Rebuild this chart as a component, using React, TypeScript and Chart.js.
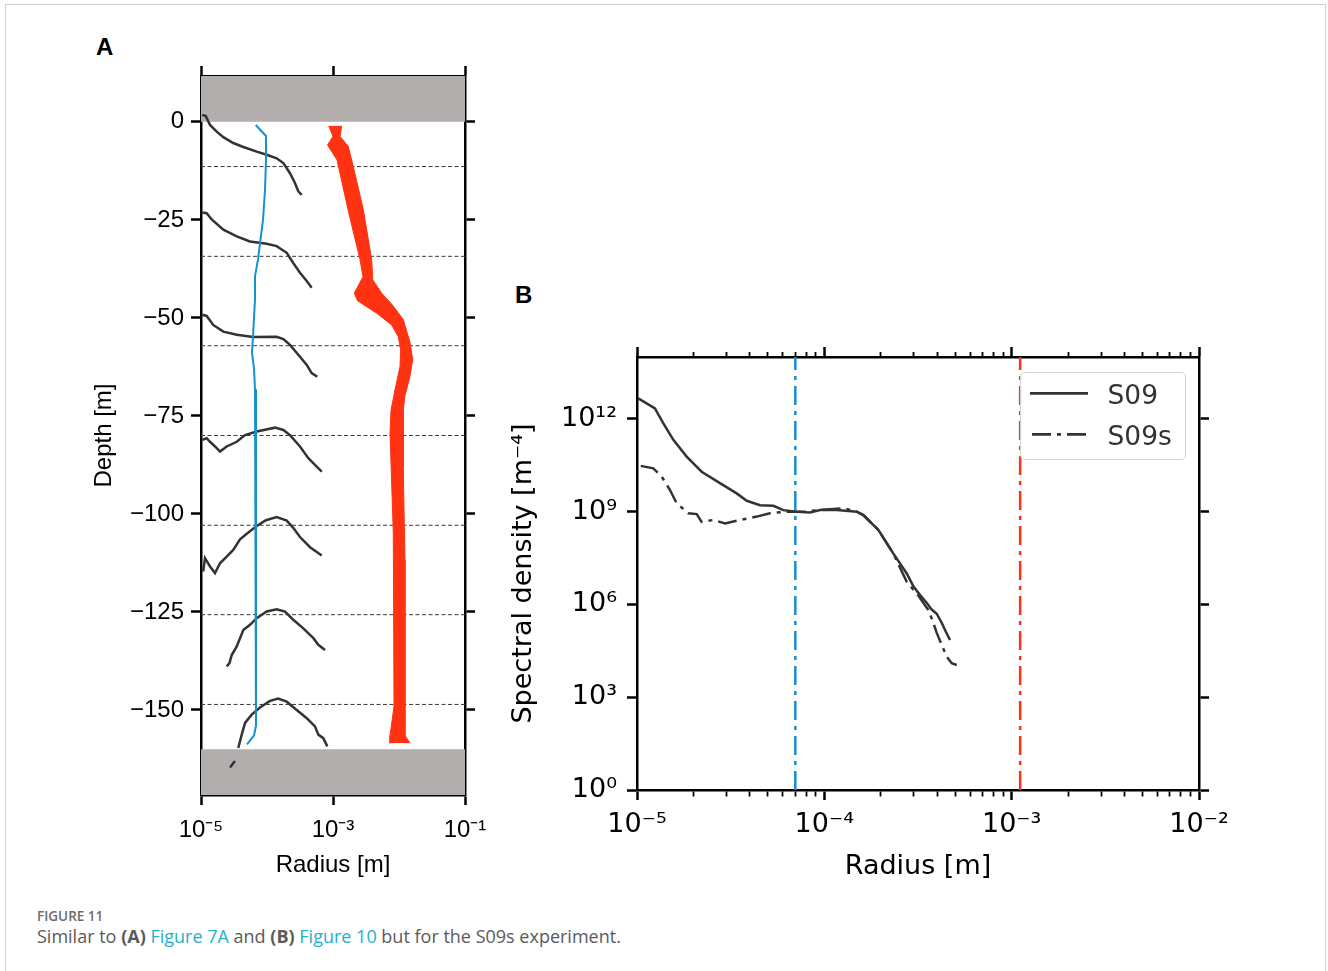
import React, { useEffect, useRef } from 'react';
import { Chart, registerables } from 'chart.js';

Chart.register(...registerables);

const FONT_A = "'Liberation Sans', Arial, Helvetica, sans-serif";
const FONT_B = "'DejaVu Sans', 'Bitstream Vera Sans', sans-serif";
const RED = '#ff3311';
const BLUE = '#1790d0';
const GRAY = '#b2aeae';
const DARK = '#333333';

// ---------------- Panel A data ----------------
const depthTicks = [-150, -125, -100, -75, -50, -25, 0];
const radiusTicksA = [1e-5, 1e-3, 1e-1];
const depthMin = -171.7;
const depthMax = 11.7;
const radiusMinA = 1e-5;
const radiusMaxA = 1e-1;
const surfaceDepth = 0;
const floorDepth = -160;
const sampleDepths = [-11.4, -34.3, -57.1, -80.0, -102.9, -125.7, -148.6];

const curve1R = [1.047e-5, 1.18e-5, 1.37e-5, 1.73e-5, 2.18e-5, 3.08e-5, 4.38e-5, 6.98e-5, 9.89e-5, 1.4e-4, 1.77e-4, 2.23e-4, 2.65e-4, 2.98e-4, 3.36e-4];
const curve1D = [1.8, 1.5, -0.8, -2.5, -3.9, -5.4, -6.4, -7.6, -8.4, -9.3, -10.5, -13.1, -15.6, -17.7, -18.6];
const curve2R = [1.047e-5, 1.219e-5, 1.452e-5, 2.18e-5, 3.48e-5, 5.52e-5, 9.89e-5, 1.4e-4, 1.99e-4, 2.5e-4, 3.16e-4, 4.0e-4, 4.75e-4];
const curve2D = [-23.1, -23.3, -24.9, -27.5, -29.2, -30.5, -31.1, -31.7, -33.4, -36.0, -38.5, -40.6, -42.3];
const curve3R = [1.047e-5, 1.22e-5, 1.53e-5, 2.18e-5, 3.48e-5, 6.19e-5, 1.4e-4, 1.77e-4, 2.23e-4, 3.16e-4, 4.0e-4, 4.75e-4, 5.78e-4];
const curve3D = [-49.2, -49.5, -51.8, -53.5, -54.3, -54.9, -54.8, -55.4, -56.9, -59.9, -62.0, -64.1, -65.0];
const curve4R = [1.047e-5, 1.22e-5, 1.37e-5, 1.63e-5, 1.94e-5, 2.45e-5, 3.48e-5, 4.65e-5, 6.98e-5, 1.32e-4, 1.77e-4, 2.23e-4, 3.16e-4, 4.23e-4, 5.33e-4, 6.75e-4];
const curve4D = [-81.1, -80.7, -81.6, -82.8, -84.1, -82.8, -81.6, -79.9, -79.0, -78.0, -78.6, -79.9, -82.8, -85.8, -87.5, -89.2];
const curve5R = [1.08e-5, 1.15e-5, 1.37e-5, 1.63e-5, 1.94e-5, 2.45e-5, 3.08e-5, 3.9e-5, 5.15e-5, 6.98e-5, 9.66e-5, 1.4e-4, 1.99e-4, 2.48e-4, 3.16e-4, 4.49e-4, 6.75e-4];
const curve5D = [-114.7, -111.3, -113.4, -115.1, -112.6, -110.9, -109.2, -106.5, -104.8, -103.1, -101.6, -100.8, -101.7, -103.5, -105.9, -108.5, -110.6];
const curve6R = [2.45e-5, 2.69e-5, 2.92e-5, 3.48e-5, 4.38e-5, 5.52e-5, 6.98e-5, 9.89e-5, 1.4e-4, 1.87e-4, 2.5e-4, 3.55e-4, 5.04e-4, 5.99e-4, 7.57e-4];
const curve6D = [-138.9, -138.1, -136.0, -133.8, -129.6, -128.3, -126.6, -124.9, -124.3, -124.9, -127.0, -129.2, -131.7, -133.4, -134.7];
const curve7R = [2.75e-5, 3.27e-5, null, 3.67e-5, 4.14e-5, 4.65e-5, 5.86e-5, 7.83e-5, 1.11e-4, 1.48e-4, 1.99e-4, 2.82e-4, 4.0e-4, 5.33e-4, 5.99e-4, 7.13e-4, 8.2e-4];
const curve7D = [-164.7, -163.0, null, -159.7, -156.3, -153.3, -151.2, -149.4, -147.7, -147.1, -147.9, -150.0, -152.1, -154.2, -156.3, -157.2, -159.3];

const blueR = [6.75e-5, 9.66e-5, 9.66e-5, 9.33e-5, 8.71e-5, 7.31e-5, 6.58e-5, 6.58e-5, 6.14e-5, 5.93e-5, 6.37e-5, 6.58e-5, 6.81e-5, 6.81e-5, 6.81e-5, 6.37e-5, 4.98e-5];
const blueD = [-0.8, -3.6, -9.7, -17.3, -24.9, -35.1, -39.4, -45.3, -54.7, -58.8, -63.1, -68.2, -79.1, -111.5, -154.0, -156.5, -158.8];

const redLeftR = [8.61e-4, 1.0e-3, 8.26e-4, 1.15e-3, 1.69e-3, 2.57e-3, 2.85e-3, 2.1e-3, 2.35e-3, 4.59e-3, 7.74e-3, 9.75e-3, 1.06e-2, 1.035e-2, 8.69e-3, 7.57e-3, 7.31e-3, 7.74e-3, 8.2e-3, 8.4e-3, 7.31e-3, 7.31e-3];
const redLeftD = [-1.0, -3.7, -5.9, -9.7, -22.4, -35.2, -39.5, -43.7, -45.6, -48.8, -51.8, -54.8, -58.2, -62.4, -68.4, -73.5, -79.4, -92.2, -104.9, -149.1, -156.5, -158.5];
const redRightR = [1.355e-3, 1.277e-3, 1.706e-3, 2.03e-3, 2.88e-3, 3.86e-3, 4.0e-3, 5.47e-3, 7.83e-3, 1.16e-2, 1.47e-2, 1.61e-2, 1.47e-2, 1.23e-2, 1.16e-2, 1.16e-2, 1.23e-2, 1.23e-2, 1.47e-2];
const redRightD = [-1.0, -3.7, -6.3, -11.4, -22.4, -35.2, -40.3, -43.7, -46.6, -50.4, -56.3, -60.6, -64.8, -69.9, -73.5, -87.9, -111.7, -156.5, -158.5];

// ---------------- Panel B data ----------------
const radiusTicksB = [
  1e-5, 2e-5, 3e-5, 4e-5, 5e-5, 6e-5, 7e-5, 8e-5, 9e-5,
  1e-4, 2e-4, 3e-4, 4e-4, 5e-4, 6e-4, 7e-4, 8e-4, 9e-4,
  1e-3, 2e-3, 3e-3, 4e-3, 5e-3, 6e-3, 7e-3, 8e-3, 9e-3,
  1e-2,
];
const densityTicks = [1, 1e3, 1e6, 1e9, 1e12];
const radiusMinB = 1e-5;
const radiusMaxB = 1e-2;
const densityMin = 1;
const densityMax = 1e14;

const s09R = [1.016e-5, 1.247e-5, 1.38e-5, 1.563e-5, 1.841e-5, 2.213e-5, 2.773e-5, 3.404e-5, 3.855e-5, 4.539e-5, 5.346e-5, 6.039e-5, 7.129e-5, 8.395e-5, 9.484e-5, 1.164e-4, 1.489e-4, 1.614e-4, 1.941e-4, 2.333e-4, 2.754e-4, 2.979e-4, 3.243e-4, 3.524e-4, 3.715e-4, 3.981e-4, 4.236e-4, 4.467e-4, 4.688e-4];
const s09S = [4.57e12, 2.19e12, 7.24e11, 2.09e11, 6.03e10, 1.95e10, 8.32e9, 3.89e9, 2.24e9, 1.62e9, 1.55e9, 1.12e9, 1.0e9, 9.33e8, 1.12e9, 1.12e9, 1.0e9, 7.76e8, 2.57e8, 4.47e7, 1.0e7, 3.98e6, 2.0e6, 1.12e6, 7.08e5, 5.01e5, 2.51e5, 1.26e5, 7.08e4];
const s09sR = [1.047e-5, 1.222e-5, 1.355e-5, 1.5e-5, 1.629e-5, 1.879e-5, 2.084e-5, 2.213e-5, 2.553e-5, 2.951e-5, 3.548e-5, 4.355e-5, 5.129e-5, 6.295e-5, 8.054e-5, 9.099e-5, 1.072e-4, 1.262e-4, 1.489e-4, 1.614e-4, 1.941e-4, 2.333e-4, 2.754e-4, 3.162e-4, 3.589e-4, 3.741e-4, 3.981e-4, 4.236e-4, 4.498e-4, 4.786e-4, 5.093e-4];
const s09sS = [3.02e10, 2.51e10, 1.35e10, 5.01e9, 1.86e9, 8.91e8, 8.32e8, 4.68e8, 5.37e8, 4.17e8, 5.37e8, 6.92e8, 8.91e8, 1.0e9, 1.0e9, 1.12e9, 1.2e9, 1.29e9, 1.0e9, 7.76e8, 2.57e8, 4.47e7, 5.37e6, 2.0e6, 6.61e5, 3.55e5, 1.2e5, 4.9e4, 2.04e4, 1.26e4, 1.1e4];
const cutoffSmall = 7.0e-5;
const cutoffLarge = 1.11e-3;

// ---------------- helpers ----------------
const SUP: Record<string, string> = { '0': '⁰', '1': '¹', '2': '²', '3': '³', '4': '⁴', '5': '⁵', '6': '⁶', '7': '⁷', '8': '⁸', '9': '⁹', '-': '⁻' };
const isMajorLog = (v: number) => Math.abs(Math.log10(v) - Math.round(Math.log10(v))) < 1e-6;
const powLabel = (v: number) => '10' + String(Math.round(Math.log10(v))).split('').map((c) => SUP[c] || c).join('');
const minusLabel = (v: number) => (v < 0 ? '\u2212' + Math.abs(v) : String(v));
const DASHDOT = [19, 6, 4, 6];

const xy = (xs: any[], ys: any[]) => xs.map((x, i) => ({ x, y: ys[i] }));
const lineDs = (label: string, data: any[], color: string, width: number, extra: any = {}) => ({
  label,
  data,
  xAxisID: 'x',
  yAxisID: 'y',
  showLine: true,
  borderColor: color,
  backgroundColor: color,
  borderWidth: width,
  pointRadius: 0,
  pointHoverRadius: 0,
  fill: false,
  tension: 0,
  spanGaps: false,
  ...extra,
});

function fixedSize(size: number) {
  return (s: any) => {
    if (s.isHorizontal()) s.height = size;
    else s.width = size;
    s.paddingLeft = 0;
    s.paddingRight = 0;
    s.paddingTop = 0;
    s.paddingBottom = 0;
  };
}
function setTicks(values: number[]) {
  return (s: any) => {
    s.ticks = values.map((v) => ({ value: v }));
  };
}
function gridFor(position: string, isMinor: (v: number) => boolean) {
  const outerFirst = position === 'top' || position === 'left';
  return {
    display: true,
    drawOnChartArea: false,
    drawTicks: true,
    tickLength: 10,
    tickColor: '#000',
    tickWidth: (c: any) => (c.tick && isMinor(c.tick.value) ? 1.8 : 2.5),
    tickBorderDash: (c: any) => (c.tick && isMinor(c.tick.value) ? (outerFirst ? [0, 5, 5, 100] : [5, 100]) : []),
  };
}
const BORDER = { display: true, color: '#000', width: 2.5 };
const noMinor = () => false;
const logMinor = (v: number) => !isMajorLog(v);

const baseOptions = {
  responsive: false,
  maintainAspectRatio: false,
  animation: false,
  devicePixelRatio: 1,
  events: [],
  layout: { padding: 0 },
  plugins: { legend: { display: false }, tooltip: { enabled: false }, title: { display: false } },
};

function PanelA() {
  const ref = useRef<HTMLCanvasElement>(null);
  useEffect(() => {
    const curves = [
      [curve1R, curve1D],
      [curve2R, curve2D],
      [curve3R, curve3D],
      [curve4R, curve4D],
      [curve5R, curve5D],
      [curve6R, curve6D],
      [curve7R, curve7D],
    ];
    const datasets: any[] = [
      lineDs('Bubble radius range', xy(redLeftR, redLeftD), RED, 1, { fill: '+1', indexAxis: 'y' }),
      lineDs('Bubble radius range (upper)', xy(redRightR, redRightD), RED, 1, { indexAxis: 'y' }),
      lineDs('Cut-off radius', xy(blueR, blueD), BLUE, 2),
      ...curves.map(([r, d], i) => lineDs('Size distribution ' + (i + 1), xy(r as any[], d as any[]), DARK, 2.5)),
      ...sampleDepths.map((d, i) =>
        lineDs('Sample depth ' + (i + 1), [{ x: radiusMinA, y: d }, { x: radiusMaxA, y: d }], '#3a3a3a', 1, { borderDash: [4, 2.5] })
      ),
      lineDs('Atmosphere', [{ x: radiusMinA, y: surfaceDepth }, { x: radiusMaxA, y: surfaceDepth }], GRAY, 0, { fill: 'end', borderColor: 'rgba(0,0,0,0)' }),
      lineDs('Sea floor', [{ x: radiusMinA, y: floorDepth }, { x: radiusMaxA, y: floorDepth }], GRAY, 0, { fill: 'start', borderColor: 'rgba(0,0,0,0)' }),
    ];
    const tickFont = { family: FONT_A, size: 24 };
    const chart = new Chart(ref.current as HTMLCanvasElement, {
      type: 'scatter',
      data: { datasets },
      options: {
        ...baseOptions,
        scales: {
          x: {
            type: 'logarithmic', position: 'bottom', min: radiusMinA, max: radiusMaxA, z: 1,
            afterBuildTicks: setTicks(radiusTicksA), afterFit: fixedSize(100),
            ticks: { autoSkip: false, maxRotation: 0, padding: 11, color: '#000', font: tickFont, callback: (v: any) => powLabel(Number(v)) },
            grid: gridFor('bottom', noMinor), border: BORDER,
            title: { display: true, text: 'Radius [m]', color: '#000', font: tickFont, padding: { top: 0, bottom: 15 } },
          },
          x2: {
            type: 'logarithmic', position: 'top', min: radiusMinA, max: radiusMaxA, z: 1,
            afterBuildTicks: setTicks(radiusTicksA), afterFit: fixedSize(14),
            ticks: { display: false }, grid: gridFor('top', noMinor), border: BORDER,
          },
          y: {
            type: 'linear', position: 'left', min: depthMin, max: depthMax, z: 1,
            afterBuildTicks: setTicks(depthTicks), afterFit: fixedSize(121),
            ticks: { autoSkip: false, padding: 7, color: '#000', font: tickFont, callback: (v: any) => minusLabel(Number(v)) },
            grid: gridFor('left', noMinor), border: BORDER,
            title: { display: true, text: 'Depth [m]', color: '#000', font: tickFont, padding: { top: 10, bottom: 0 } },
          },
          y2: {
            type: 'linear', position: 'right', min: depthMin, max: depthMax, z: 1,
            afterBuildTicks: setTicks(depthTicks), afterFit: fixedSize(40),
            ticks: { display: false }, grid: gridFor('right', noMinor), border: BORDER,
          },
        },
      } as any,
    });
    return () => chart.destroy();
  }, []);
  return <canvas ref={ref} width={425} height={833} style={{ position: 'absolute', left: 80, top: 62 }} />;
}

function PanelB() {
  const ref = useRef<HTMLCanvasElement>(null);
  useEffect(() => {
    const datasets: any[] = [
      lineDs('S09', xy(s09R, s09S), DARK, 2.5),
      lineDs('S09s', xy(s09sR, s09sS), DARK, 2.5, { borderDash: DASHDOT }),
      lineDs('Small cut-off', [{ x: cutoffSmall, y: densityMin }, { x: cutoffSmall, y: densityMax }], BLUE, 2.5, { borderDash: DASHDOT }),
      lineDs('Large cut-off', [{ x: cutoffLarge, y: densityMin }, { x: cutoffLarge, y: densityMax }], RED, 2.5, { borderDash: DASHDOT }),
    ];
    const tickFont = { family: FONT_B, size: 27 };
    const chart = new Chart(ref.current as HTMLCanvasElement, {
      type: 'scatter',
      data: { datasets },
      options: {
        ...baseOptions,
        scales: {
          x: {
            type: 'logarithmic', position: 'bottom', min: radiusMinB, max: radiusMaxB, z: 1,
            afterBuildTicks: setTicks(radiusTicksB), afterFit: fixedSize(105),
            ticks: { autoSkip: false, maxRotation: 0, padding: 9, color: '#000', font: tickFont, callback: (v: any) => (isMajorLog(Number(v)) ? powLabel(Number(v)) : '') },
            grid: gridFor('bottom', logMinor), border: BORDER,
            title: { display: true, text: 'Radius [m]', color: '#000', font: tickFont, padding: { top: 0, bottom: 12 } },
          },
          x2: {
            type: 'logarithmic', position: 'top', min: radiusMinB, max: radiusMaxB, z: 1,
            afterBuildTicks: setTicks(radiusTicksB), afterFit: fixedSize(14),
            ticks: { display: false }, grid: gridFor('top', logMinor), border: BORDER,
          },
          y: {
            type: 'logarithmic', position: 'left', min: densityMin, max: densityMax, z: 1,
            afterBuildTicks: setTicks(densityTicks), afterFit: fixedSize(137),
            ticks: { autoSkip: false, padding: 10, color: '#000', font: tickFont, callback: (v: any) => powLabel(Number(v)) },
            grid: gridFor('left', noMinor), border: BORDER,
            title: { display: true, text: 'Spectral density [m⁻⁴]', color: '#000', font: tickFont, padding: { top: 8, bottom: 0 } },
          },
          y2: {
            type: 'logarithmic', position: 'right', min: densityMin, max: densityMax, z: 1,
            afterBuildTicks: setTicks(densityTicks), afterFit: fixedSize(40),
            ticks: { display: false }, grid: gridFor('right', noMinor), border: BORDER,
          },
        },
      } as any,
    });
    return () => chart.destroy();
  }, []);
  return <canvas ref={ref} width={739} height={552} style={{ position: 'absolute', left: 500, top: 343 }} />;
}

function LegendB() {
  const rowText: React.CSSProperties = {
    position: 'absolute', fontFamily: FONT_B, fontSize: 26.5, lineHeight: '26px', color: '#333', whiteSpace: 'nowrap',
  };
  return (
    <>
      <div
        style={{
          position: 'absolute', left: 1020, top: 372, width: 166, height: 88,
          border: '1.5px solid #d3d3d3', borderRadius: 5, background: 'rgba(255,255,255,0.8)', boxSizing: 'border-box',
        }}
      />
      <svg style={{ position: 'absolute', left: 1028, top: 380, overflow: 'visible' }} width={64} height={70}>
        <line x1={2} y1={13.3} x2={60} y2={13.3} stroke={DARK} strokeWidth={2.7} />
        <line x1={4} y1={54.3} x2={59} y2={54.3} stroke={DARK} strokeWidth={2.7} strokeDasharray={DASHDOT.join(' ')} />
      </svg>
      <div style={{ ...rowText, left: 1107.5, top: 382 }}>S09</div>
      <div style={{ ...rowText, left: 1107.5, top: 423 }}>S09s</div>
    </>
  );
}

export default function App() {
  const panelLabel: React.CSSProperties = {
    position: 'absolute', fontFamily: FONT_A, fontWeight: 700, fontSize: 24, lineHeight: '24px', color: '#000',
  };
  const link: React.CSSProperties = { color: '#1fb1c9' };
  return (
    <div style={{ position: 'absolute', left: 0, top: 0, width: 1328, height: 971, overflow: 'hidden', background: '#fff' }}>
      <div style={{ position: 'absolute', left: 5, top: 4, width: 1321, height: 1000, border: '1px solid #d0d0d0', boxSizing: 'border-box' }} />
      <div style={{ ...panelLabel, left: 96, top: 34.5 }}>A</div>
      <div style={{ ...panelLabel, left: 515, top: 282.5 }}>B</div>
      <PanelA />
      <PanelB />
      <LegendB />
      <div
        style={{
          position: 'absolute', left: 37, top: 909, fontFamily: "'Open Sans', Lato, sans-serif", fontSize: 13.5, lineHeight: '15px',
          fontWeight: 600, color: '#6b6b6b',
        }}
      >
        FIGURE 11
      </div>
      <div
        style={{
          position: 'absolute', left: 37, top: 925, fontFamily: "'Open Sans', Lato, sans-serif", fontSize: 18, lineHeight: '23px',
          color: '#5a5a5a', whiteSpace: 'nowrap',
        }}
      >
        Similar to <b>(A)</b> <span style={link}>Figure 7A</span> and <b>(B)</b> <span style={link}>Figure 10</span> but for the S09s experiment.
      </div>
    </div>
  );
}
